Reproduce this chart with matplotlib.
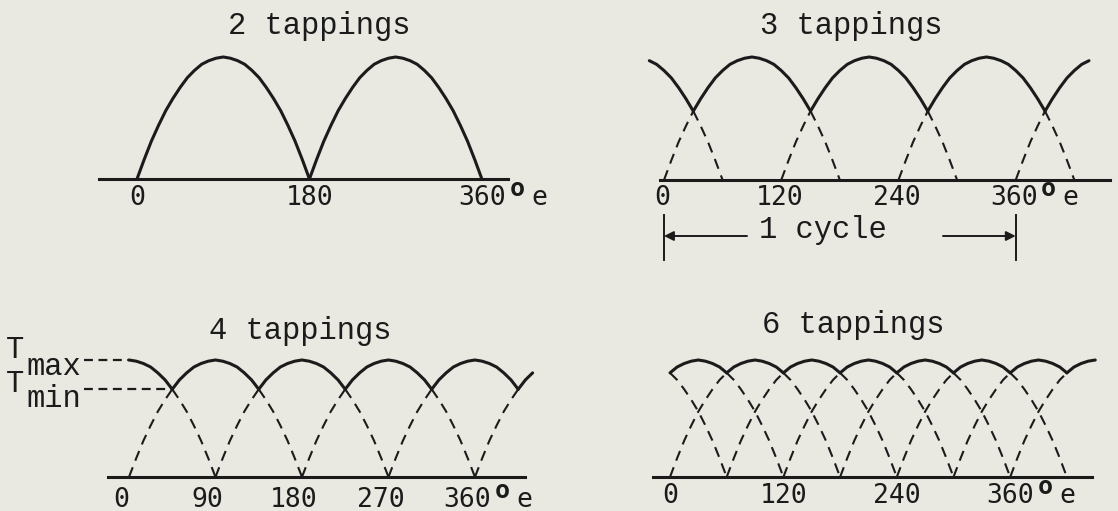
import matplotlib.pyplot as plt
import numpy as np

plt.rcParams['font.family'] = ['Liberation Mono', 'DejaVu Sans Mono']

# one tapping's torque hump, every 7.5 deg (fraction of peak)
hump_deg = list(np.arange(0, 181, 7.5))
hump_val = [0, 0.16, 0.31, 0.44, 0.56, 0.66, 0.75, 0.83, 0.89, 0.94, 0.97, 0.99, 1.0,
            0.99, 0.97, 0.94, 0.89, 0.83, 0.75, 0.66, 0.56, 0.44, 0.31, 0.16, 0]

titles = ['2 tappings', '3 tappings', '4 tappings', '6 tappings']
hump_starts = [
    [0, 180],
    [-120, 0, 120, 240, 360],
    [-90, 0, 90, 180, 270, 360],
    [-120, -60, 0, 60, 120, 180, 240, 300, 360],
]
curve_from = [0, -15, 0, 0]
curve_to = [360, 435, 420, 450]
dash_to = [360, 420, 405, 420]
tick_deg = [[0, 180, 360], [0, 120, 240, 360], [0, 90, 180, 270, 360], [0, 120, 240, 360]]

# ---- layout (pixels of the 1118x511 picture) ----
W, H = 1118, 511
ink = '#1b1b1b'
paper = '#e9e9e2'
layout = [
    dict(x0=137, sx=0.958, base=179, h=122, box=(0, 0, 559, 255)),
    dict(x0=664, sx=0.977, base=180, h=123, box=(559, 0, 1118, 255)),
    dict(x0=129, sx=0.961, base=477, h=117, box=(0, 255, 559, 511)),
    dict(x0=670, sx=0.945, base=477, h=117, box=(559, 255, 1118, 511)),
]
title_xy = [(319, 34), (851, 34), (300, 339), (853, 333)]
baseline_deg = [(-40, 387), (-4, 456), (-22, 412), (-18, 447)]
label_base = [205, 205, 507, 503]
label_shift = [0, -2, -8, 0]


def deg(L, px):
    return (px - L['x0']) / L['sx']


def val(L, py):
    return (L['base'] - py) / L['h']


def hump_curves(i, lo, hi):
    grid = np.arange(lo, hi + 1, 7.5)
    curves = np.array([np.interp(grid, np.array(hump_deg) + s, hump_val,
                                 left=np.nan, right=np.nan) for s in hump_starts[i]])
    return grid, curves, np.nanmax(curves, axis=0)


fig = plt.figure(figsize=(W / 100, H / 100), dpi=100, facecolor=paper)
axes = []

for i, L in enumerate(layout):
    left, top, right, bottom = L['box']
    ax = fig.add_axes([left / W, 1 - bottom / H, (right - left) / W, (bottom - top) / H])
    ax.set_xlim(deg(L, left), deg(L, right))
    ax.set_ylim(val(L, bottom), val(L, top))
    ax.axis('off')
    axes.append(ax)

    grid, curves, env = hump_curves(i, curve_from[i], curve_to[i])

    # solid where a hump is the envelope, dashed below it
    for c in curves:
        on = np.nan_to_num(c, nan=-1) >= env - 1e-9
        ok = ~np.isnan(c)
        solid = np.where(on, c, np.nan)
        seg_d = ok[:-1] & ok[1:] & ~(on[:-1] & on[1:]) & (grid[1:] <= dash_to[i])
        keep = np.zeros(len(c), bool)
        keep[:-1] |= seg_d
        keep[1:] |= seg_d
        dashed = np.where(keep, c, np.nan)
        ax.plot(grid, dashed, color=ink, lw=1.5, ls=(0, (5, 3.4)), clip_on=False, zorder=2)
        ax.plot(grid, solid, color=ink, lw=2.2, solid_joinstyle='round',
                solid_capstyle='round', clip_on=False, zorder=3)

    # baseline
    ax.plot(baseline_deg[i], [0, 0], color=ink, lw=2.2, clip_on=False, zorder=3)

    # title
    tx, ty = title_xy[i]
    ax.text(deg(L, tx), val(L, ty), titles[i], ha='center', va='baseline',
            fontsize=22, color=ink)

    # tick labels
    for t in tick_deg[i]:
        px = L['x0'] + t * L['sx'] + label_shift[i]
        ax.text(deg(L, px), val(L, label_base[i]), str(t), ha='center', va='baseline',
                fontsize=19, family='DejaVu Sans Mono', color=ink)
        if t == 360:
            ax.text(deg(L, px + 35), val(L, label_base[i] - 9), 'o', ha='center',
                    va='baseline', fontsize=18, fontweight='bold',
                    family='DejaVu Sans Mono', color=ink)
            ax.text(deg(L, px + 57), val(L, label_base[i]), 'e', ha='center',
                    va='baseline', fontsize=19, family='DejaVu Sans Mono', color=ink)

# "1 cycle" bracket under the 3 tappings panel
ax, L = axes[1], layout[1]
for t in [0, 360]:
    ax.plot([t, t], [val(L, 215), val(L, 260)], color=ink, lw=1.4, clip_on=False)
y_arr = val(L, 236)
ax.annotate('', xy=(0, y_arr), xytext=(deg(L, 747), y_arr),
            arrowprops=dict(arrowstyle='-|>', color=ink, lw=1.4, mutation_scale=14,
                            shrinkA=0, shrinkB=0), annotation_clip=False)
ax.annotate('', xy=(360, y_arr), xytext=(deg(L, 943), y_arr),
            arrowprops=dict(arrowstyle='-|>', color=ink, lw=1.4, mutation_scale=14,
                            shrinkA=0, shrinkB=0), annotation_clip=False)
ax.text(deg(L, 823), val(L, 238), '1 cycle', ha='center', va='baseline',
        fontsize=22, color=ink)

# Tmax / Tmin marks on the 4 tappings panel
ax, L = axes[2], layout[2]
grid, curves, env = hump_curves(2, 0, 360)
t_max, t_min = env.max(), env.min()
x_min = grid[np.argmin(env)]
ax.plot([deg(L, 84), 0], [t_max, t_max], color=ink, lw=1.6, ls=(0, (4, 2.5)), clip_on=False)
ax.plot([deg(L, 84), x_min], [t_min, t_min], color=ink, lw=1.6, ls=(0, (4, 2.5)),
        clip_on=False)
ax.text(deg(L, 6), val(L, 358), 'T', ha='left', va='baseline', fontsize=22, color=ink)
ax.text(deg(L, 26), val(L, 375), 'max', ha='left', va='baseline', fontsize=22, color=ink)
ax.text(deg(L, 6), val(L, 392), 'T', ha='left', va='baseline', fontsize=22, color=ink)
ax.text(deg(L, 26), val(L, 407), 'min', ha='left', va='baseline', fontsize=22, color=ink)

fig.savefig('out.png', dpi=100, facecolor=paper)
